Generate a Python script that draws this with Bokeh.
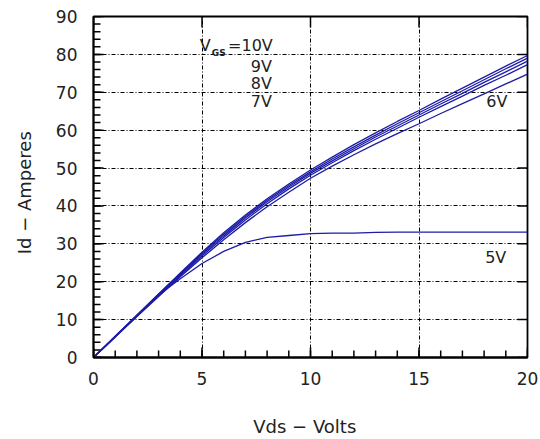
from bokeh.plotting import figure
from bokeh.models import Range1d, FixedTicker, ColumnDataSource
from bokeh.core.properties import value
from bokeh.embed import file_html
from bokeh.resources import INLINE

vds = list(range(0, 21))
id_10v = [0, 5.6, 11.2, 16.8, 22.3, 27.8, 32.9, 37.6, 41.9, 45.8, 49.5, 52.9, 56.2, 59.3, 62.3, 65.2, 68.2, 71.1, 74.0, 76.9, 79.7]
id_9v = [0, 5.6, 11.1, 16.7, 22.1, 27.5, 32.5, 37.2, 41.5, 45.4, 49.0, 52.4, 55.6, 58.7, 61.7, 64.6, 67.5, 70.4, 73.3, 76.2, 79.0]
id_8v = [0, 5.5, 11.0, 16.5, 21.9, 27.2, 32.1, 36.8, 41.1, 45.0, 48.6, 51.9, 55.1, 58.2, 61.1, 64.0, 66.9, 69.7, 72.6, 75.4, 78.2]
id_7v = [0, 5.5, 10.9, 16.3, 21.6, 26.8, 31.7, 36.3, 40.6, 44.5, 48.1, 51.4, 54.6, 57.6, 60.5, 63.4, 66.2, 69.0, 71.8, 74.5, 77.3]
id_6v = [0, 5.4, 10.8, 16.1, 21.3, 26.3, 31.1, 35.6, 39.8, 43.6, 47.3, 50.5, 53.5, 56.4, 59.1, 61.7, 64.4, 67.0, 69.6, 72.2, 74.8]
id_5v = [0, 5.5, 11.0, 16.5, 20.8, 24.8, 28.0, 30.4, 31.7, 32.2, 32.7, 32.8, 32.8, 33.0, 33.1, 33.1, 33.1, 33.1, 33.1, 33.1, 33.1]

label_text = ["9V", "8V", "7V", "6V", "5V"]
label_x = [7.25, 7.25, 7.25, 18.1, 18.05]
label_y = [76.9, 72.2, 67.5, 67.5, 26.5]

x_ticks = [0, 5, 10, 15, 20]
x_minor = list(range(0, 21))
y_ticks = [0, 10, 20, 30, 40, 50, 60, 70, 80, 90]
y_minor = list(range(0, 91, 2))

FONT = "DejaVu Sans"
BLUE = "#1c1ca6"
INK = "#222222"

W, H = 540, 439
BL, BR, BT, BB = 93, 13, 16, 80
FW, FH = W - BL - BR, H - BT - BB

p = figure(width=W, height=H, output_backend="svg", toolbar_location=None,
           x_range=Range1d(x_ticks[0], x_ticks[-1]), y_range=Range1d(y_ticks[0], y_ticks[-1]),
           min_border_left=BL, min_border_right=BR, min_border_top=BT, min_border_bottom=BB)
p.extra_x_ranges = {"px": Range1d(0, FW)}
p.extra_y_ranges = {"px": Range1d(0, FH)}
p.background_fill_color = "white"
p.border_fill_color = "white"
p.outline_line_color = "black"
p.outline_line_width = 1.8

for ax, ticks, minors in ((p.xaxis[0], x_ticks, x_minor), (p.yaxis[0], y_ticks, y_minor)):
    ax.ticker = FixedTicker(ticks=ticks, minor_ticks=minors)
    ax.major_tick_in = 0
    ax.major_tick_out = 0
    ax.minor_tick_in = 0
    ax.minor_tick_out = 0
    ax.axis_line_color = "black"
    ax.axis_line_width = 1.8
    ax.major_label_text_font = FONT
    ax.major_label_text_font_size = "17px"
    ax.major_label_text_color = INK
    ax.axis_label_text_font = FONT
    ax.axis_label_text_font_size = "18px"
    ax.axis_label_text_font_style = "normal"
    ax.axis_label_text_color = INK

p.xaxis[0].major_label_standoff = 14
p.yaxis[0].major_label_standoff = 16
p.xaxis[0].axis_label = "Vds  \u2212  Volts"
p.yaxis[0].axis_label = "Id  \u2212  Amperes"
p.xaxis[0].axis_label_standoff = 28
p.yaxis[0].axis_label_standoff = 18

for g in (p.xgrid[0], p.ygrid[0]):
    g.grid_line_color = "black"
    g.grid_line_dash = "4 2 1 2"
    g.grid_line_width = 1

# inward tick marks (lengths in pixels through the "px" ranges)
tick_kw = dict(line_color="black", line_width=1.5)
p.segment(x0=x_minor, x1=x_minor, y0=[0] * len(x_minor), y1=[7] * len(x_minor),
          y_range_name="px", **tick_kw)
p.segment(x0=x_ticks, x1=x_ticks, y0=[0] * len(x_ticks), y1=[10] * len(x_ticks),
          y_range_name="px", **tick_kw)
p.segment(x0=x_ticks, x1=x_ticks, y0=[FH - 11] * len(x_ticks), y1=[FH] * len(x_ticks),
          y_range_name="px", **tick_kw)
p.segment(x0=[0] * len(y_minor), x1=[7] * len(y_minor), y0=y_minor, y1=y_minor,
          x_range_name="px", **tick_kw)
p.segment(x0=[0] * len(y_ticks), x1=[10] * len(y_ticks), y0=y_ticks, y1=y_ticks,
          x_range_name="px", **tick_kw)
p.segment(x0=[FW - 10] * len(y_ticks), x1=[FW] * len(y_ticks), y0=y_ticks, y1=y_ticks,
          x_range_name="px", **tick_kw)

for ys in (id_10v, id_9v, id_8v, id_7v, id_6v, id_5v):
    p.line(vds, ys, line_color=BLUE, line_width=1.3)

src = ColumnDataSource(dict(x=label_x, y=label_y, t=label_text))
p.text(x="x", y="y", text="t", source=src, text_font=value(FONT), text_font_size="16px",
       text_color=INK, text_baseline="middle", text_align="left")

p.text(x=[4.9], y=[82.4], text=["V"], text_font=value(FONT), text_font_size="16px",
       text_color=INK, text_baseline="middle", text_align="left")
p.text(x=[5.45], y=[80.4], text=["GS"], text_font=value(FONT), text_font_size="9px",
       text_font_style="bold", text_color=INK, text_baseline="middle", text_align="left")
p.text(x=[6.2], y=[82.4], text=["=10V"], text_font=value(FONT), text_font_size="16px",
       text_color=INK, text_baseline="middle", text_align="left")

open("out.html", "w").write(file_html(p, INLINE))
